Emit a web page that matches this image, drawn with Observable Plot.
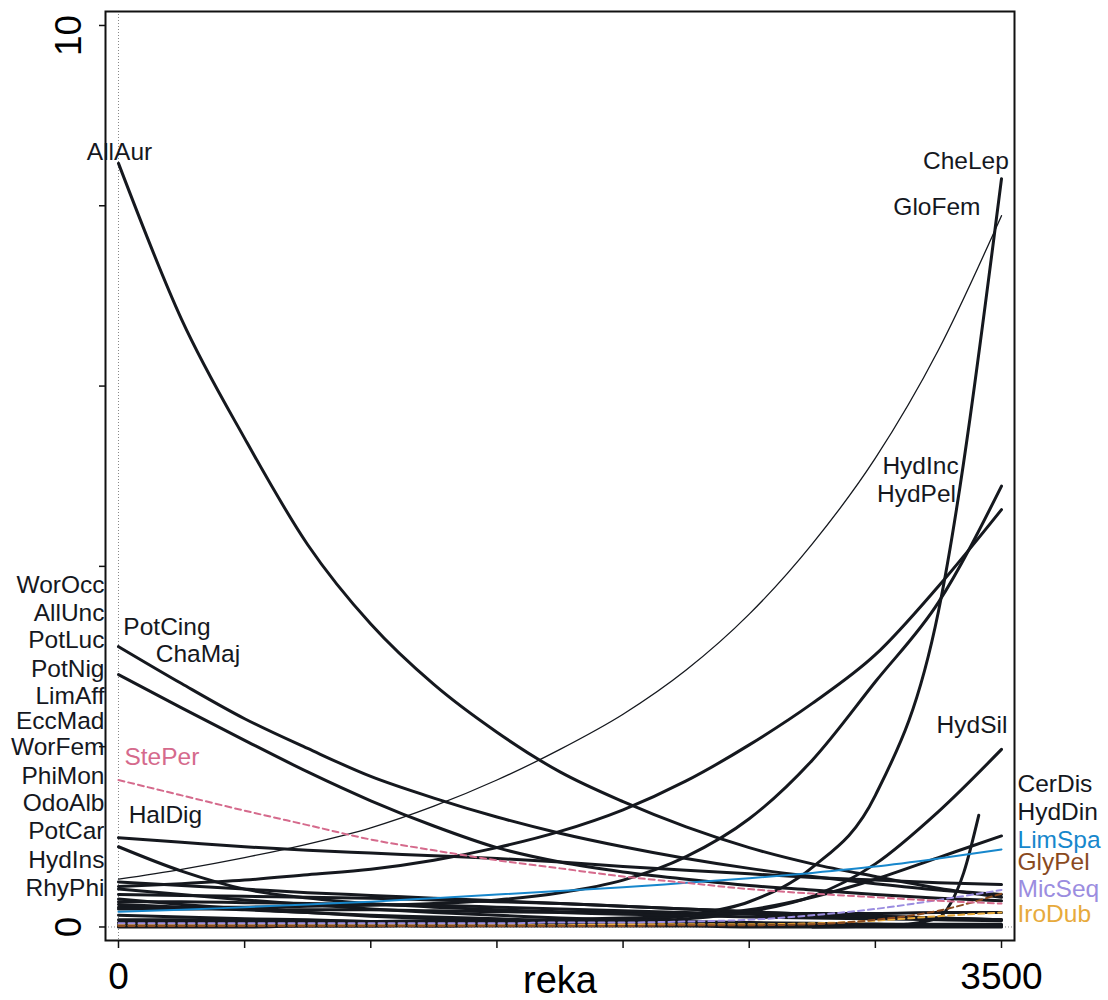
<!DOCTYPE html>
<html>
<head>
<meta charset="utf-8">
<script src="https://cdn.jsdelivr.net/npm/d3@7"></script>
<script src="https://cdn.jsdelivr.net/npm/@observablehq/plot@0.6"></script>
<style>
  body { margin: 0; background: #fff; }
</style>
</head>
<body>
<div id="chart"></div>
<script>
// ---------- data ----------
const reka = [0, 250, 500, 750, 1000, 1250, 1500, 1750, 2000, 2250, 2500, 2750, 3000, 3250, 3500];

const AllAur  = [8.47, 6.74, 5.42, 4.24, 3.36, 2.69, 2.16, 1.72, 1.39, 1.11, 0.88, 0.70, 0.56, 0.43, 0.33];
const GloFem  = [0.53, 0.64, 0.77, 0.92, 1.10, 1.34, 1.63, 1.97, 2.36, 2.85, 3.47, 4.25, 5.20, 6.40, 7.89];
const CheLep  = [0.01, 0.01, 0.01, 0.01, 0.01, 0.02, 0.02, 0.03, 0.06, 0.13, 0.28, 0.66, 1.46, 3.50, 8.30];
const HydInc  = [0.22, 0.22, 0.22, 0.23, 0.24, 0.26, 0.30, 0.38, 0.52, 0.78, 1.20, 1.85, 2.72, 3.60, 4.89];
const HydPel  = [0.45, 0.48, 0.52, 0.58, 0.64, 0.74, 0.88, 1.06, 1.30, 1.62, 2.02, 2.48, 3.02, 3.78, 4.63];
const HydSil  = [0.00, 0.00, 0.00, 0.01, 0.01, 0.01, 0.02, 0.03, 0.05, 0.09, 0.17, 0.34, 0.70, 1.28, 1.97];
const HydDin  = [0.05, 0.05, 0.05, 0.06, 0.06, 0.07, 0.07, 0.08, 0.10, 0.12, 0.19, 0.33, 0.53, 0.77, 1.01];
const LimSpa  = [0.17, 0.19, 0.22, 0.25, 0.28, 0.32, 0.36, 0.40, 0.44, 0.49, 0.54, 0.60, 0.67, 0.76, 0.86];
const PotCing = [3.11, 2.70, 2.31, 1.98, 1.67, 1.43, 1.22, 1.04, 0.89, 0.76, 0.65, 0.56, 0.48, 0.41, 0.36];
const ChaMaj  = [2.80, 2.43, 2.07, 1.72, 1.40, 1.12, 0.88, 0.72, 0.61, 0.53, 0.46, 0.41, 0.36, 0.32, 0.29];
const StePer  = [1.63, 1.46, 1.29, 1.13, 0.97, 0.85, 0.74, 0.65, 0.56, 0.49, 0.42, 0.37, 0.33, 0.29, 0.26];
const HalDig  = [0.99, 0.94, 0.89, 0.85, 0.82, 0.79, 0.76, 0.72, 0.67, 0.63, 0.59, 0.55, 0.52, 0.49, 0.47];
const GlyPel  = [0.01, 0.01, 0.01, 0.01, 0.01, 0.01, 0.01, 0.01, 0.01, 0.02, 0.02, 0.03, 0.08, 0.18, 0.37];
const MicSeq  = [0.04, 0.04, 0.04, 0.04, 0.04, 0.04, 0.04, 0.05, 0.05, 0.06, 0.08, 0.13, 0.20, 0.30, 0.41];
const IroDub  = [0.02, 0.02, 0.02, 0.02, 0.02, 0.02, 0.02, 0.02, 0.03, 0.03, 0.03, 0.04, 0.07, 0.12, 0.16];
const WorOcc  = [0.89, 0.62, 0.42, 0.32, 0.26, 0.22, 0.19, 0.17, 0.16, 0.15, 0.15, 0.15, 0.15, 0.16, 0.16];
const AllUnc  = [0.50, 0.46, 0.42, 0.38, 0.35, 0.32, 0.29, 0.26, 0.23, 0.20, 0.17, 0.14, 0.12, 0.10, 0.08];
const PotLuc  = [0.42, 0.36, 0.30, 0.25, 0.20, 0.16, 0.13, 0.10, 0.08, 0.06, 0.05, 0.04, 0.03, 0.02, 0.02];
const PotNig  = [0.36, 0.35, 0.34, 0.33, 0.32, 0.30, 0.28, 0.26, 0.23, 0.20, 0.17, 0.14, 0.12, 0.10, 0.08];
const LimAff  = [0.31, 0.25, 0.20, 0.16, 0.12, 0.09, 0.07, 0.05, 0.04, 0.03, 0.02, 0.02, 0.01, 0.01, 0.01];
const EccMad  = [0.28, 0.28, 0.27, 0.26, 0.25, 0.24, 0.22, 0.20, 0.18, 0.16, 0.14, 0.12, 0.10, 0.09, 0.08];
const WorFem  = [0.25, 0.22, 0.19, 0.16, 0.13, 0.11, 0.09, 0.07, 0.06, 0.05, 0.04, 0.03, 0.03, 0.02, 0.02];
const PhiMon  = [0.20, 0.20, 0.20, 0.19, 0.19, 0.18, 0.17, 0.16, 0.14, 0.13, 0.11, 0.10, 0.09, 0.08, 0.07];
const OdoAlb  = [0.13, 0.11, 0.09, 0.08, 0.06, 0.05, 0.04, 0.03, 0.03, 0.02, 0.02, 0.01, 0.01, 0.01, 0.01];
const PotCar  = [0.08, 0.08, 0.07, 0.07, 0.06, 0.06, 0.05, 0.05, 0.04, 0.04, 0.04, 0.03, 0.03, 0.03, 0.03];
const HydIns  = [0.04, 0.04, 0.04, 0.04, 0.03, 0.03, 0.03, 0.03, 0.03, 0.02, 0.02, 0.02, 0.02, 0.02, 0.02];
const RhyPhi  = [0.02, 0.02, 0.02, 0.02, 0.02, 0.01, 0.01, 0.01, 0.01, 0.01, 0.00, 0.00, 0.00, 0.00, 0.00];

// CerDis has a fitted curve that stops before the end of the gradient
const rekaCerDis = [2750, 3000, 3125, 3250, 3300, 3350, 3410];
const CerDis     = [0.00, 0.01, 0.03, 0.10, 0.27, 0.60, 1.24];

// label anchors (data units)
const leftLabelNames   = ["WorOcc","AllUnc","PotLuc","PotNig","LimAff","EccMad","WorFem","PhiMon","OdoAlb","PotCar","HydIns","RhyPhi"];
const leftLabelHeights = [3.79, 3.48, 3.18, 2.86, 2.56, 2.28, 2.00, 1.67, 1.37, 1.06, 0.74, 0.43];
const rightLabelNames   = ["CerDis","HydDin","LimSpa","GlyPel","MicSeq","IroDub"];
const rightLabelHeights = [1.58, 1.27, 0.96, 0.72, 0.42, 0.14];
const innerLabelNames   = ["AllAur","CheLep","GloFem","HydInc","HydPel","HydSil","PotCing","ChaMaj","StePer","HalDig"];
const innerLabelReka    = [4, 3359, 3244, 3179, 3163, 3383, 192, 315, 172, 186];
const innerLabelHeights = [8.60, 8.50, 7.99, 5.11, 4.80, 2.24, 3.33, 3.03, 1.88, 1.24];

const yTicks = [0, 2, 4, 6, 8, 10];
const xTicks = [0, 500, 1000, 1500, 2000, 2500, 3000, 3500];
const xTickLabels = [0, 3500];
const xTitle = "reka";

// ---------- build table ----------
const seriesOnGrid = {AllAur, GloFem, CheLep, HydInc, HydPel, HydSil, HydDin, LimSpa, PotCing, ChaMaj, StePer,
  HalDig, GlyPel, MicSeq, IroDub, WorOcc, AllUnc, PotLuc, PotNig, LimAff, EccMad, WorFem, PhiMon, OdoAlb,
  PotCar, HydIns, RhyPhi};
const rows = [];
for (const [name, vals] of Object.entries(seriesOnGrid)) {
  vals.forEach((v, i) => rows.push({name, reka: reka[i], value: v}));
}
CerDis.forEach((v, i) => rows.push({name: "CerDis", reka: rekaCerDis[i], value: v}));

// ---------- styles ----------
const ink = "#15181e";
const blue = "#1787cc", pink = "#d56a8c", brown = "#8a4a1e", purple = "#9b8de0", orange = "#e7aa3c";
const special = {
  GloFem: {stroke: ink, strokeWidth: 1.3},
  LimSpa: {stroke: blue, strokeWidth: 2},
  StePer: {stroke: pink, strokeWidth: 2, strokeDasharray: "6,4"},
  GlyPel: {stroke: brown, strokeWidth: 2, strokeDasharray: "6,4"},
  MicSeq: {stroke: purple, strokeWidth: 2, strokeDasharray: "6,4"},
  IroDub: {stroke: orange, strokeWidth: 2, strokeDasharray: "6,4"}
};
const labelColor = {LimSpa: blue, StePer: pink, GlyPel: brown, MicSeq: purple, IroDub: orange};

const names = [...new Set(rows.map(d => d.name))];
const blackNames = names.filter(n => !special[n] || n === "GloFem");
const colorNames = ["LimSpa", "IroDub", "GlyPel", "MicSeq", "StePer"];

const lineMark = n => Plot.line(rows.filter(d => d.name === n), {
  x: "reka", y: "value", curve: "monotone-x",
  stroke: ink, strokeWidth: 3, strokeLinecap: "round", strokeLinejoin: "round",
  ...(special[n] || {})
});

const chart = Plot.plot({
  width: 1108,
  height: 1000,
  marginLeft: 105,
  marginRight: 94,
  marginTop: 11,
  marginBottom: 60,
  x: {domain: [-51.5, 3551.5]},
  y: {domain: [-0.15, 10.155]},
  style: {fontFamily: "'Liberation Sans', Arial, Helvetica, sans-serif", background: "#fff", color: ink},
  marks: [
    Plot.ruleX([0], {stroke: "#888", strokeDasharray: "1,2", strokeWidth: 1}),
    Plot.ruleY([0], {stroke: "#888", strokeDasharray: "1,2", strokeWidth: 1}),
    ...blackNames.map(lineMark),
    ...colorNames.map(lineMark),
    Plot.frame({stroke: "#111", strokeWidth: 2}),
    Plot.axisY({ticks: yTicks, tickSize: 6, tickFormat: () => "", label: null, stroke: "#111", strokeWidth: 1.5}),
    Plot.axisX({ticks: xTicks, tickSize: 8, tickFormat: () => "", label: null, stroke: "#111", strokeWidth: 1.5}),
    Plot.text([0], {y: d => d, text: d => String(d), frameAnchor: "left", textAnchor: "middle", lineAnchor: "middle",
      dx: -36, rotate: -90, fontSize: 37, fill: "#000"}),
    Plot.text([10], {y: d => d, text: d => String(d), frameAnchor: "left", textAnchor: "middle", lineAnchor: "middle",
      dx: -36, dy: 10, rotate: -90, fontSize: 37, fill: "#000"}),
    Plot.text(xTickLabels, {x: d => d, text: d => String(d), frameAnchor: "bottom", textAnchor: "middle", lineAnchor: "middle",
      dy: 37, fontSize: 37, fill: "#000"}),
    Plot.text([xTitle], {text: d => d, frameAnchor: "bottom", textAnchor: "middle", lineAnchor: "middle",
      dy: 40, fontSize: 38, fill: "#000"}),
    // left labels
    Plot.text(leftLabelNames, {
      x: () => 0, y: (d, i) => leftLabelHeights[i], text: d => d,
      textAnchor: "end", dx: -14, fontSize: 24.5, fill: ink
    }),
    // right labels
    Plot.text(rightLabelNames, {
      x: () => 3500, y: (d, i) => rightLabelHeights[i], text: d => d,
      textAnchor: "start", dx: 16, fontSize: 24.5, fill: d => labelColor[d] || ink
    }),
    // inner labels
    Plot.text(innerLabelNames, {
      x: (d, i) => innerLabelReka[i], y: (d, i) => innerLabelHeights[i], text: d => d,
      textAnchor: "middle", fontSize: 24.5, fill: d => labelColor[d] || ink
    })
  ]
});
document.getElementById("chart").appendChild(chart);
</script>
</body>
</html>
